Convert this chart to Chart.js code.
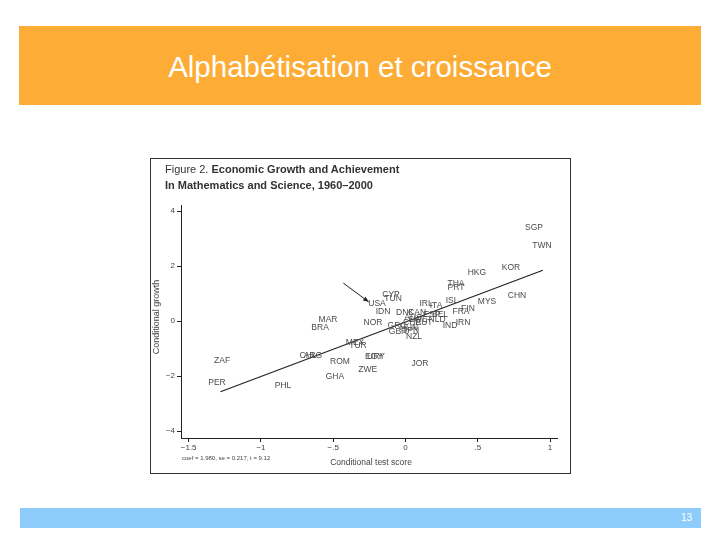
<!DOCTYPE html>
<html>
<head>
<meta charset="utf-8">
<script src="https://cdn.jsdelivr.net/npm/chart.js@4.4.1/dist/chart.umd.min.js"></script>
<style>
  body { margin: 0; width: 720px; height: 540px; background: #fff; position: relative; overflow: hidden;
         font-family: "Liberation Sans", Arial, sans-serif; }
  .banner { position: absolute; left: 19px; top: 26px; width: 682px; height: 79px; background: #fdac35;
            color: #fff; font-size: 29.5px; text-align: center; line-height: 81px; }
  .footer { position: absolute; left: 20px; top: 508px; width: 681px; height: 20px; background: #8ecdfb; }
  .footer span { position: absolute; right: 9px; top: 4px; color: #fff; font-size: 10px; }
  .figure { position: absolute; left: 150px; top: 158px; width: 419px; height: 314px; border: 1px solid #333; background: #fff; }
  .fig-title { position: absolute; left: 14px; top: 2px; font-size: 11px; line-height: 16px; color: #333; }
  .fig-title b { font-weight: bold; }
  canvas { position: absolute; left: -1px; top: -1px; }
</style>
</head>
<body>
<div class="banner">Alphabétisation et croissance</div>
<div class="figure">
  <canvas id="growthChart" width="421" height="316"></canvas>
  <div class="fig-title">Figure 2. <b>Economic Growth and Achievement</b><br><b>In Mathematics and Science, 1960–2000</b></div>
</div>
<div class="footer"><span>13</span></div>
<script>
  // country codes, conditional test score (x) and conditional growth (y)
  const countryCodes = ['SGP', 'TWN', 'HKG', 'KOR', 'THA', 'PRT', 'CHN', 'ISL', 'MYS', 'FIN',
    'FRA', 'IRN', 'IND', 'NLD', 'ESP', 'BEL', 'IRL', 'ITA', 'CYP', 'TUN',
    'USA', 'IDN', 'NOR', 'DNK', 'CAN', 'AUS', 'SWE', 'CHE', 'AUT', 'GRC',
    'HUN', 'JPN', 'GBR', 'NZL', 'MAR', 'BRA', 'ZAF', 'PER', 'PHL', 'CHL',
    'ARG', 'MEX', 'TUR', 'ROM', 'URY', 'EGY', 'ZWE', 'GHA', 'JOR'];
  const testScore = [0.889, 0.944, 0.494, 0.730, 0.349, 0.349, 0.771, 0.322, 0.564, 0.432,
    0.384, 0.398, 0.308, 0.218, 0.183, 0.239, 0.142, 0.211, -0.100, -0.086,
    -0.197, -0.156, -0.225, -0.003, 0.080, 0.052, 0.086, 0.045, 0.128, -0.059,
    0.024, 0.038, -0.052, 0.059, -0.536, -0.591, -1.269, -1.304, -0.847, -0.674,
    -0.640, -0.349, -0.329, -0.453, -0.204, -0.218, -0.261, -0.488, 0.100];
  const growthRate = [3.38, 2.76, 1.75, 1.93, 1.35, 1.20, 0.91, 0.73, 0.69, 0.44,
    0.33, -0.04, -0.18, 0.04, 0.25, 0.25, 0.62, 0.55, 0.95, 0.80,
    0.62, 0.33, -0.04, 0.29, 0.29, 0.11, 0.07, -0.04, -0.04, -0.15,
    -0.25, -0.33, -0.40, -0.55, 0.04, -0.25, -1.45, -2.25, -2.36, -1.24,
    -1.27, -0.78, -0.91, -1.48, -1.31, -1.31, -1.76, -2.03, -1.56];

  // fitted regression line end points
  const fitX = [-1.28, 0.95];
  const fitY = [-2.57, 1.85];

  // arrow pointing at USA
  const arrowX = [-0.43, -0.255];
  const arrowY = [1.38, 0.70];

  const xTickValues = [-1.5, -1, -0.5, 0, 0.5, 1];
  const xTickLabels = ['\u22121.5', '\u22121', '\u2212.5', '0', '.5', '1'];
  const yTickValues = [-4, -2, 0, 2, 4];
  const yTickLabels = ['\u22124', '\u22122', '0', '2', '4'];
  const xRange = [-1.553, 1.048];
  const yRange = [-4.25, 4.22];

  const axisTitleX = 'Conditional test score';
  const axisTitleY = 'Conditional growth';
  const fitNote = 'coef = 1.980, se = 0.217, t = 9.12';

  function toPoints(xs, ys) {
    return xs.map((x, i) => ({ x: x, y: ys[i] }));
  }

  const labelPlugin = {
    id: 'countryLabels',
    afterDatasetsDraw(chart) {
      const ctx = chart.ctx;
      ctx.save();
      ctx.font = '8.5px "Liberation Sans", Arial, sans-serif';
      ctx.fillStyle = '#4a4a4a';
      ctx.textAlign = 'center';
      ctx.textBaseline = 'middle';
      chart.getDatasetMeta(0).data.forEach((pt, i) => {
        ctx.fillText(countryCodes[i], pt.x, pt.y);
      });

      // arrow head
      const arrow = chart.getDatasetMeta(2).data;
      const p0 = arrow[0], p1 = arrow[1];
      const ang = Math.atan2(p1.y - p0.y, p1.x - p0.x);
      ctx.fillStyle = '#222';
      ctx.beginPath();
      ctx.moveTo(p1.x, p1.y);
      ctx.lineTo(p1.x - 6 * Math.cos(ang - 0.4), p1.y - 6 * Math.sin(ang - 0.4));
      ctx.lineTo(p1.x - 6 * Math.cos(ang + 0.4), p1.y - 6 * Math.sin(ang + 0.4));
      ctx.closePath();
      ctx.fill();

      // axis titles and note
      const area = chart.chartArea;
      ctx.fillStyle = '#444';
      ctx.font = '8.5px "Liberation Sans", Arial, sans-serif';
      ctx.fillText(axisTitleX, (area.left + area.right) / 2 + 2, area.bottom + 25);
      ctx.save();
      ctx.translate(7, area.top + 112);
      ctx.rotate(-Math.PI / 2);
      ctx.font = '9px "Liberation Sans", Arial, sans-serif';
      ctx.fillText(axisTitleY, 0, 0);
      ctx.restore();
      ctx.textAlign = 'left';
      ctx.font = '6px "Liberation Sans", Arial, sans-serif';
      ctx.fillText(fitNote, area.left + 1, area.bottom + 20);
      ctx.restore();
    }
  };

  new Chart(document.getElementById('growthChart').getContext('2d'), {
    type: 'scatter',
    data: {
      datasets: [
        {
          data: toPoints(testScore, growthRate),
          pointRadius: 0
        },
        {
          data: toPoints(fitX, fitY),
          showLine: true,
          borderColor: '#222',
          borderWidth: 1.2,
          pointRadius: 0
        },
        {
          data: toPoints(arrowX, arrowY),
          showLine: true,
          borderColor: '#222',
          borderWidth: 1,
          pointRadius: 0
        }
      ]
    },
    options: {
      responsive: false,
      animation: false,
      layout: { padding: { left: 0, right: 14, top: 47, bottom: 0 } },
      plugins: { legend: { display: false }, tooltip: { enabled: false } },
      scales: {
        x: {
          type: 'linear',
          min: xRange[0],
          max: xRange[1],
          afterBuildTicks: s => { s.ticks = xTickValues.map(v => ({ value: v })); },
          afterFit: s => { s.height = 36; },
          ticks: {
            callback: v => xTickLabels[xTickValues.indexOf(v)],
            font: { size: 8, family: '"Liberation Sans", Arial' },
            color: '#444',
            padding: 1,
            maxRotation: 0,
            autoSkip: false
          },
          grid: { drawOnChartArea: false, tickLength: 4, color: '#222' },
          border: { color: '#222', width: 1 }
        },
        y: {
          type: 'linear',
          min: yRange[0],
          max: yRange[1],
          afterBuildTicks: s => { s.ticks = yTickValues.map(v => ({ value: v })); },
          afterFit: s => { s.width = 31; },
          ticks: {
            callback: v => yTickLabels[yTickValues.indexOf(v)],
            font: { size: 8, family: '"Liberation Sans", Arial' },
            color: '#444',
            padding: 2
          },
          grid: { drawOnChartArea: false, tickLength: 4, color: '#222' },
          border: { color: '#222', width: 1 }
        }
      }
    },
    plugins: [labelPlugin]
  });
</script>
</body>
</html>
